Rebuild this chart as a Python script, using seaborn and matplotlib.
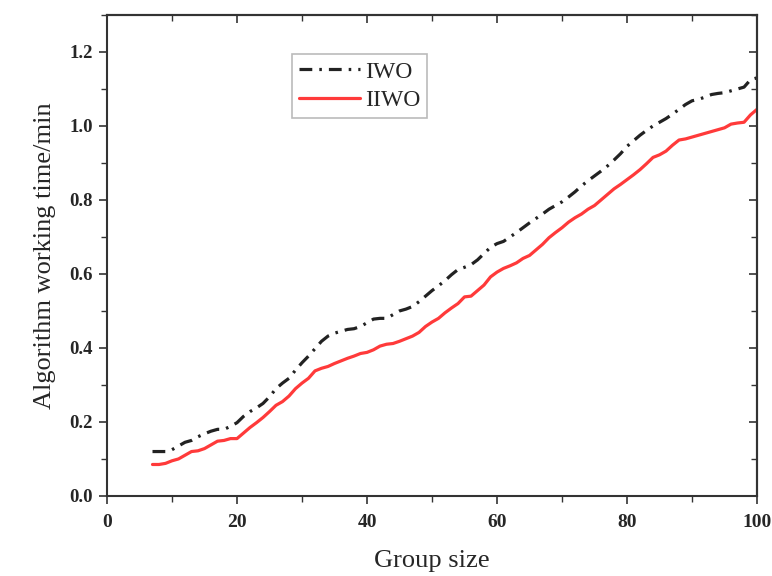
import numpy as np
import pandas as pd
import matplotlib
matplotlib.use("Agg")
import matplotlib.pyplot as plt
import seaborn as sns
from matplotlib.ticker import MultipleLocator

group_size = list(range(7, 101))

iwo = [0.120, 0.120, 0.120, 0.125, 0.135, 0.145, 0.150, 0.160, 0.168, 0.175,
       0.180, 0.180, 0.188, 0.198, 0.215, 0.228, 0.238, 0.250, 0.268, 0.290,
       0.305, 0.318, 0.340, 0.360, 0.378, 0.398, 0.418, 0.432, 0.440, 0.445,
       0.450, 0.452, 0.458, 0.468, 0.478, 0.480, 0.480, 0.490, 0.500, 0.505,
       0.512, 0.525, 0.540, 0.555, 0.568, 0.582, 0.598, 0.612, 0.618, 0.625,
       0.638, 0.655, 0.672, 0.682, 0.688, 0.700, 0.712, 0.725, 0.738, 0.750,
       0.762, 0.775, 0.785, 0.795, 0.808, 0.822, 0.838, 0.852, 0.865, 0.878,
       0.892, 0.908, 0.925, 0.945, 0.960, 0.975, 0.988, 1.000, 1.010, 1.020,
       1.032, 1.045, 1.058, 1.068, 1.072, 1.078, 1.085, 1.088, 1.090, 1.095,
       1.100, 1.105, 1.125, 1.130]

iiwo = [0.085, 0.085, 0.088, 0.095, 0.100, 0.110, 0.120, 0.122, 0.128, 0.138,
        0.148, 0.150, 0.155, 0.155, 0.170, 0.185, 0.198, 0.212, 0.228, 0.245,
        0.255, 0.270, 0.290, 0.305, 0.318, 0.338, 0.345, 0.350, 0.358, 0.365,
        0.372, 0.378, 0.385, 0.388, 0.395, 0.405, 0.410, 0.412, 0.418, 0.425,
        0.432, 0.442, 0.458, 0.470, 0.480, 0.495, 0.508, 0.520, 0.538, 0.540,
        0.555, 0.570, 0.592, 0.605, 0.615, 0.622, 0.630, 0.642, 0.650, 0.665,
        0.680, 0.698, 0.712, 0.725, 0.740, 0.752, 0.762, 0.775, 0.785, 0.800,
        0.815, 0.830, 0.842, 0.855, 0.868, 0.882, 0.898, 0.915, 0.922, 0.932,
        0.948, 0.962, 0.965, 0.970, 0.975, 0.980, 0.985, 0.990, 0.995, 1.005,
        1.008, 1.010, 1.030, 1.045]

series_names = ["IWO", "IIWO"]
x_ticks = [0, 20, 40, 60, 80, 100]
y_ticks = [0.0, 0.2, 0.4, 0.6, 0.8, 1.0, 1.2]

df = pd.DataFrame({
    "Group size": group_size * 2,
    "time": iwo + iiwo,
    "Algorithm": [series_names[0]] * len(iwo) + [series_names[1]] * len(iiwo),
})

sns.set_style("white")
plt.rcParams["font.family"] = ["Liberation Serif", "DejaVu Serif"]

fig = plt.figure(figsize=(7.72, 5.76), dpi=100)
ax = fig.add_axes([0.1386, 0.139, 0.842, 0.835])

sns.lineplot(data=df, x="Group size", y="time", hue="Algorithm", style="Algorithm",
             palette={"IWO": "#222222", "IIWO": "#ff3a3a"},
             dashes={"IWO": (4.0, 2.2, 0.8, 2.2), "IIWO": ""},
             linewidth=2.3, ax=ax, legend=True)

ax.set_xlim(0, 100)
ax.set_ylim(0, 1.3)
ax.set_xticks(x_ticks)
ax.set_yticks(y_ticks)
ax.set_xticklabels([str(v) for v in x_ticks], fontweight="bold", fontsize=14)
ax.set_yticklabels([f"{v:.1f}" for v in y_ticks], fontweight="bold", fontsize=13.5)
ax.xaxis.set_minor_locator(MultipleLocator(10))
ax.yaxis.set_minor_locator(MultipleLocator(0.1))
ax.tick_params(which="major", direction="out", length=6, width=1.2, color="#333333",
               bottom=True, left=True, top=False, right=False, pad=4)
ax.tick_params(axis="x", which="major", pad=7)
ax.tick_params(which="minor", direction="out", length=4, width=1.0, color="#333333",
               bottom=True, left=True, top=False, right=False)

# mirrored ticks on top and right, pointing inward
secx = ax.secondary_xaxis("top")
secx.set_xticks(x_ticks)
secx.xaxis.set_minor_locator(MultipleLocator(10))
secx.tick_params(which="major", direction="in", length=6, width=1.2, labeltop=False, color="#333333")
secx.tick_params(which="minor", direction="in", length=4, width=1.0, color="#333333")
secy = ax.secondary_yaxis("right")
secy.set_yticks(y_ticks)
secy.yaxis.set_minor_locator(MultipleLocator(0.1))
secy.tick_params(which="major", direction="in", length=6, width=1.2, labelright=False, color="#333333")
secy.tick_params(which="minor", direction="in", length=4, width=1.0, color="#333333")
for sp in list(ax.spines.values()):
    sp.set_linewidth(1.5)
    sp.set_color("#333333")
secx.spines["top"].set_linewidth(1.5)
secy.spines["right"].set_linewidth(1.5)

ax.set_xlabel("Group size", fontsize=19, labelpad=14)
ax.set_ylabel("Algorithm working time/min", fontsize=19, labelpad=10)

leg = ax.legend(loc="upper left", bbox_to_anchor=(0.284, 0.919), fontsize=17,
                frameon=True, fancybox=False, edgecolor="#aaaaaa", handlelength=2.6,
                borderpad=0.3, labelspacing=0.3, handletextpad=0.2,
                borderaxespad=0, title=None)
leg.get_frame().set_linewidth(1.2)

fig.savefig("out.png", dpi=100)
